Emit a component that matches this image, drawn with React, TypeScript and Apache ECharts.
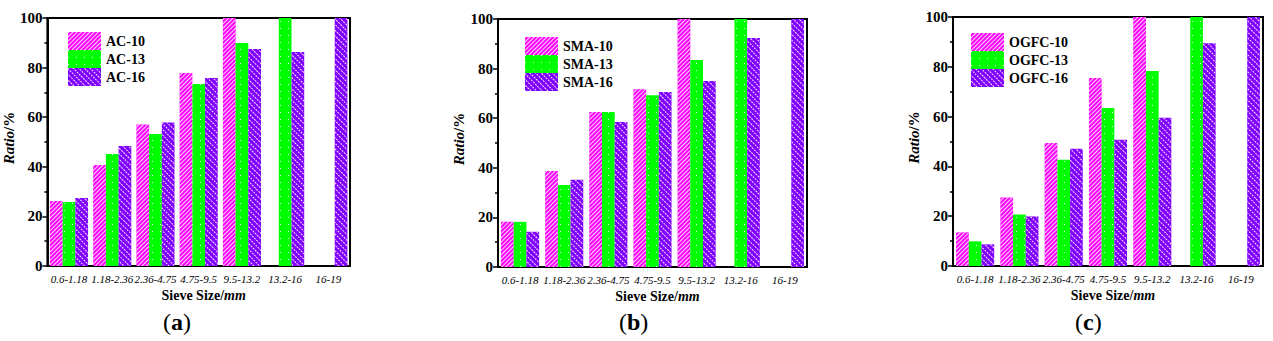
import React, { useEffect, useRef } from "react";
import * as echarts from "echarts";

const categories = ["0.6-1.18", "1.18-2.36", "2.36-4.75", "4.75-9.5", "9.5-13.2", "13.2-16", "16-19"];

const acNames = ["AC-10", "AC-13", "AC-16"];
const ac10 = [26.2, 40.7, 57.1, 77.8, 100, null, null];
const ac13 = [25.8, 45.2, 53.2, 73.4, 89.9, 100, null];
const ac16 = [27.4, 48.4, 57.9, 75.8, 87.5, 86.3, 100];

const smaNames = ["SMA-10", "SMA-13", "SMA-16"];
const sma10 = [18.2, 38.7, 62.5, 71.7, 100, null, null];
const sma13 = [18.2, 33.1, 62.5, 69.3, 83.5, 100, null];
const sma16 = [14.2, 35.2, 58.5, 70.6, 75.0, 92.3, 100];

const ogfcNames = ["OGFC-10", "OGFC-13", "OGFC-16"];
const ogfc10 = [13.5, 27.5, 49.4, 75.5, 100, null, null];
const ogfc13 = [9.9, 20.7, 42.7, 63.5, 78.3, 100, null];
const ogfc16 = [8.7, 19.9, 47.1, 50.7, 59.5, 89.5, 100];

const panelLabels = ["a", "b", "c"];
const yTicks = [0, 20, 40, 60, 80, 100];

const FONT = "Liberation Serif, serif";
const colors = ["#FF00FF", "#00FF00", "#8000FF"];

const decals = [
  {
    symbol: "rect",
    symbolSize: 1,
    color: "rgba(255,255,255,0.85)",
    dashArrayX: [1, 0],
    dashArrayY: [1, 2],
    rotation: -Math.PI / 4,
  },
  {
    symbol: "rect",
    symbolSize: 1,
    color: "rgba(255,255,255,0.95)",
    dashArrayX: [1, 7],
    dashArrayY: [1, 6],
    rotation: 0,
  },
  {
    symbol: "rect",
    symbolSize: 1,
    color: "rgba(255,255,255,0.9)",
    dashArrayX: [2, 1],
    dashArrayY: [1, 3],
    rotation: Math.PI / 4,
  },
];

const panels = [
  { names: acNames, data: [ac10, ac13, ac16], left: 41, top: 18, width: 309, height: 248, legendLeft: 68, legendTop: 32, labelX: 178 },
  { names: smaNames, data: [sma10, sma13, sma16], left: 498, top: 19, width: 309, height: 248, legendLeft: 525, legendTop: 37, labelX: 634 },
  { names: ogfcNames, data: [ogfc10, ogfc13, ogfc16], left: 953, top: 17, width: 310, height: 249, legendLeft: 971, legendTop: 33, labelX: 1090 },
];

export default function App() {
  const ref = useRef<HTMLDivElement>(null);

  useEffect(() => {
    if (!ref.current) return;
    const chart = echarts.init(ref.current, undefined, { renderer: "svg" });

    const grid: any[] = [];
    const xAxis: any[] = [];
    const yAxis: any[] = [];
    const series: any[] = [];
    const legend: any[] = [];
    const graphic: any[] = [];

    panels.forEach((p, i) => {
      grid.push({
        left: p.left,
        top: p.top,
        width: p.width,
        height: p.height,
        show: true,
        borderColor: "#000",
        borderWidth: 2,
        backgroundColor: "transparent",
      });
      xAxis.push({
        type: "category",
        gridIndex: i,
        data: categories,
        name: "{b|Sieve Size/}{bi|mm}",
        nameLocation: "middle",
        nameGap: 20,
        nameTextStyle: {
          fontFamily: FONT,
          padding: [0, 0, 0, 10],
          rich: {
            b: { fontFamily: FONT, fontWeight: "bold", fontSize: 14, color: "#000" },
            bi: { fontFamily: FONT, fontWeight: "bold", fontStyle: "italic", fontSize: 14, color: "#000" },
          },
        },
        axisLine: { lineStyle: { color: "#000", width: 2 } },
        axisTick: { alignWithLabel: true, length: 4, lineStyle: { color: "#000", width: 1.5 } },
        axisLabel: {
          interval: 0,
          fontFamily: FONT,
          fontStyle: "italic",
          fontSize: 11,
          color: "#000",
          margin: 7,
        },
        splitLine: { show: false },
      });
      yAxis.push({
        type: "value",
        gridIndex: i,
        min: 0,
        max: 100,
        interval: 20,
        name: "{bi|Ratio}{b|/%}",
        nameLocation: "middle",
        nameGap: 24,
        nameTextStyle: {
          fontFamily: FONT,
          padding: [0, 0, 0, 8],
          rich: {
            b: { fontFamily: FONT, fontWeight: "bold", fontSize: 15, color: "#000" },
            bi: { fontFamily: FONT, fontWeight: "bold", fontStyle: "italic", fontSize: 15, color: "#000" },
          },
        },
        axisLine: { show: true, lineStyle: { color: "#000", width: 2 } },
        axisTick: { show: true, length: 5, lineStyle: { color: "#000", width: 1.5 } },
        minorTick: { show: true, splitNumber: 2, length: 3, lineStyle: { color: "#000", width: 1.5 } },
        axisLabel: {
          fontFamily: FONT,
          fontWeight: "bold",
          fontSize: 15,
          color: "#000",
          margin: 5,
          customValues: yTicks,
        },
        splitLine: { show: false },
      });
      p.names.forEach((n, k) => {
        series.push({
          type: "bar",
          name: n,
          xAxisIndex: i,
          yAxisIndex: i,
          data: p.data[k],
          barWidth: 12.7,
          barGap: "0%",
          itemStyle: { color: colors[k], decal: decals[k] },
        });
      });
      legend.push({
        data: p.names,
        left: p.legendLeft,
        top: p.legendTop,
        orient: "vertical",
        itemWidth: 33,
        itemHeight: 18,
        itemGap: 0,
        padding: 0,
        icon: "rect",
        textStyle: {
          fontFamily: FONT,
          fontWeight: "bold",
          fontSize: 14,
          color: "#000",
          lineHeight: 18,
        },
      });
      graphic.push({
        type: "text",
        left: p.labelX - 15,
        top: 310,
        style: {
          text: "{n|(}{b|" + panelLabels[i] + "}{n|)}",
          rich: {
            n: { fontFamily: FONT, fontSize: 24, fill: "#000" },
            b: { fontFamily: FONT, fontSize: 24, fontWeight: "bold", fill: "#000" },
          },
        },
      });
    });

    chart.setOption({
      animation: false,
      backgroundColor: "#fff",
      textStyle: { fontFamily: FONT },
      aria: { enabled: false },
      grid,
      xAxis,
      yAxis,
      series,
      legend,
      graphic,
    });

    return () => chart.dispose();
  }, []);

  return (
    <div
      ref={ref}
      style={{ position: "fixed", left: 0, top: 0, width: 1273, height: 341 }}
    />
  );
}
